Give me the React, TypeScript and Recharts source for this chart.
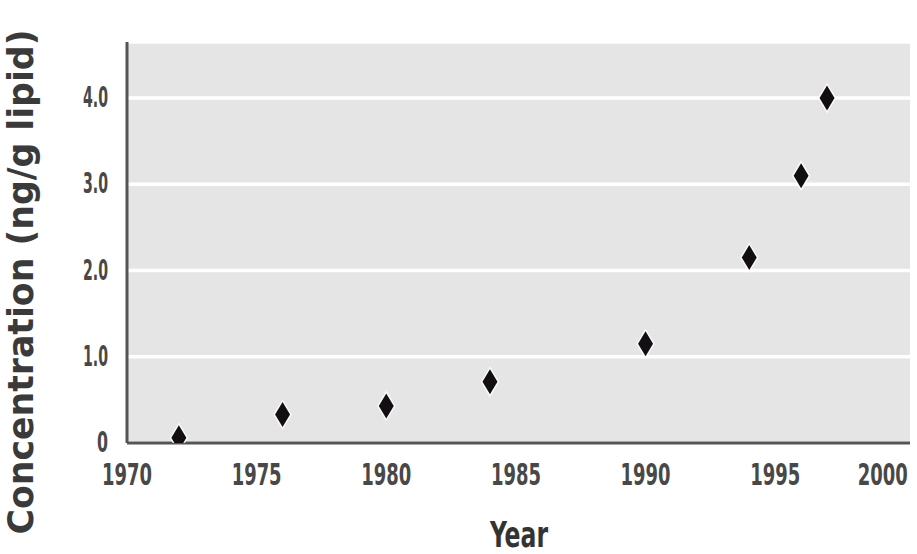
import { ScatterChart, Scatter, XAxis, YAxis, CartesianGrid, Label } from "recharts";

const years = [1972, 1976, 1980, 1984, 1990, 1994, 1996, 1997];
const concentration = [0.06, 0.33, 0.43, 0.71, 1.15, 2.15, 3.1, 4.0];
const xTicks = [1970, 1975, 1980, 1985, 1990, 1995, 2000];
const yTicks = [0, 1, 2, 3, 4];

const points = years.map((year, i) => ({ year, value: concentration[i] }));

const font = "'Liberation Sans Narrow', 'DejaVu Sans Condensed', Arial, sans-serif";

const XTick = (props: any) => {
  const { x, y, payload } = props;
  const last = payload.value === 2000;
  return (
    <text
      x={last ? x - 22 : x}
      y={y + 40}
      textAnchor="middle"
      fontFamily={font}
      fontWeight="bold"
      fontSize={30}
      fill="#484848"
      textLength={50}
      lengthAdjust="spacingAndGlyphs"
    >
      {payload.value}
    </text>
  );
};

const YTick = (props: any) => {
  const { x, y, payload } = props;
  const label = payload.value === 0 ? "0" : payload.value.toFixed(1);
  return (
    <text
      x={x - 17}
      y={y + 9}
      textAnchor="end"
      fontFamily={font}
      fontWeight="bold"
      fontSize={28}
      fill="#484848"
      textLength={label.length === 1 ? 11 : 25}
      lengthAdjust="spacingAndGlyphs"
    >
      {label}
    </text>
  );
};

const Diamond = (props: any) => {
  const { cx, cy } = props;
  const w = 7.5;
  const h = 12.5;
  return (
    <path
      d={`M${cx},${cy - h} L${cx + w},${cy} L${cx},${cy + h} L${cx - w},${cy} Z`}
      fill="#120e12"
      stroke="#ffffff"
      strokeOpacity={0.85}
      strokeWidth={3}
      paintOrder="stroke"
    />
  );
};

export default function App() {
  return (
    <div style={{ position: "absolute", left: 0, top: 0, background: "#fff" }}>
      <ScatterChart width={917} height={554} margin={{ top: 42, right: 7, bottom: 0, left: 0 }}>
        <CartesianGrid
          vertical={false}
          stroke="#ffffff"
          strokeWidth={3.5}
          fill="#e5e5e5"
          fillOpacity={1}
        />
        <XAxis
          type="number"
          dataKey="year"
          domain={[1970, 2000.2]}
          ticks={xTicks}
          allowDataOverflow
          height={111}
          tickSize={0}
          tickLine={false}
          axisLine={{ stroke: "#555555", strokeWidth: 3 }}
          tick={<XTick />}
          interval={0}
        >
          <Label
            content={() => (
              <text
                x={519}
                y={547}
                textAnchor="middle"
                fontFamily={font}
                fontWeight="bold"
                fontSize={36}
                fill="#333333"
                textLength={58}
                lengthAdjust="spacingAndGlyphs"
              >
                Year
              </text>
            )}
          />
        </XAxis>
        <YAxis
          type="number"
          dataKey="value"
          domain={[0, 4.65]}
          ticks={yTicks}
          allowDataOverflow
          width={127}
          tickSize={0}
          tickLine={false}
          axisLine={{ stroke: "#555555", strokeWidth: 3 }}
          tick={<YTick />}
          interval={0}
        >
          <Label
            content={() => (
              <text
                x={33}
                y={282}
                transform="rotate(-90, 33, 282)"
                textAnchor="middle"
                fontFamily={font}
                fontWeight="bold"
                fontSize={35}
                fill="#3a3a3a"
                textLength={505}
                lengthAdjust="spacingAndGlyphs"
              >
                Concentration (ng/g lipid)
              </text>
            )}
          />
        </YAxis>
        <Scatter data={points} shape={<Diamond />} isAnimationActive={false} />
      </ScatterChart>
    </div>
  );
}
